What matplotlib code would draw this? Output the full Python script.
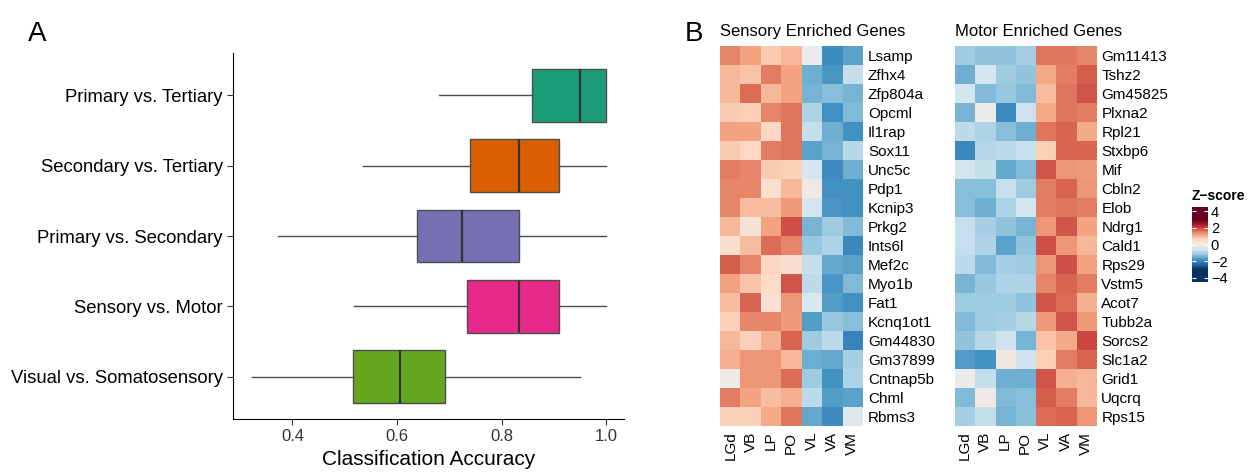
import matplotlib
matplotlib.use('Agg')
import matplotlib.pyplot as plt
from matplotlib.colors import ListedColormap, LinearSegmentedColormap
import numpy as np

# datos panel A (resumen de cajas)
comparaciones = ["Primary vs. Tertiary", "Secondary vs. Tertiary", "Primary vs. Secondary",
                 "Sensory vs. Motor", "Visual vs. Somatosensory"]
bigote_bajo = [0.681, 0.534, 0.372, 0.518, 0.322]
q1 = [0.859, 0.740, 0.638, 0.733, 0.515]
mediana = [0.949, 0.833, 0.724, 0.833, 0.605]
q3 = [1.000, 0.910, 0.833, 0.910, 0.691]
bigote_alto = [1.000, 1.000, 1.000, 1.000, 0.949]
colores = ["#1B9E77", "#D95F02", "#7570B3", "#E7298A", "#66A61E"]

# datos panel B (z-scores)
regiones = ["LGd", "VB", "LP", "PO", "VL", "VA", "VM"]
genes_sens = ["Lsamp", "Zfhx4", "Zfp804a", "Opcml", "Il1rap", "Sox11", "Unc5c", "Pdp1", "Kcnip3",
              "Prkg2", "Ints6l", "Mef2c", "Myo1b", "Fat1", "Kcnq1ot1", "Gm44830", "Gm37899",
              "Cntnap5b", "Chml", "Rbms3"]
z_sens = [
    [1.47, 1.20, 0.80, 1.00, 0.00, -1.87, -1.60],
    [1.00, 0.87, 1.53, 1.20, -1.47, -1.73, -0.73],
    [1.00, 1.67, 1.00, 1.20, -1.40, -1.27, -1.40],
    [0.80, 0.73, 1.47, 1.60, -0.93, -1.80, -1.33],
    [1.20, 1.20, 0.60, 1.60, -0.73, -1.47, -1.80],
    [0.80, 0.60, 1.53, 1.60, -1.60, -1.40, -0.87],
    [1.53, 1.47, 0.80, 0.73, -0.47, -1.87, -1.47],
    [1.47, 1.47, 0.40, 1.00, 0.13, -1.80, -1.80],
    [1.47, 0.93, 0.93, 1.27, -0.53, -1.73, -1.80],
    [1.00, 0.33, 1.20, 1.93, -1.40, -1.07, -1.33],
    [0.47, 0.93, 1.67, 1.47, -1.13, -0.93, -1.93],
    [1.80, 1.47, 0.60, 0.47, -0.73, -1.53, -1.60],
    [1.20, 0.87, 0.53, 1.87, -0.80, -1.73, -1.33],
    [0.93, 1.73, 0.40, 1.33, -0.40, -1.67, -1.80],
    [0.73, 1.47, 1.47, 1.27, -1.67, -1.13, -1.27],
    [1.00, 0.73, 1.07, 1.73, -1.07, -0.80, -2.00],
    [1.07, 1.33, 1.33, 1.00, -1.47, -1.53, -1.00],
    [0.07, 1.33, 1.33, 1.67, -1.07, -1.80, -0.93],
    [1.53, 1.20, 0.93, 1.07, -0.80, -1.67, -1.60],
    [0.73, 0.73, 1.13, 1.60, -1.53, -1.87, -0.27],
]
genes_mot = ["Gm11413", "Tshz2", "Gm45825", "Plxna2", "Rpl21", "Stxbp6", "Mif", "Cbln2", "Elob",
             "Ndrg1", "Cald1", "Rps29", "Vstm5", "Acot7", "Tubb2a", "Sorcs2", "Slc1a2", "Grid1",
             "Uqcrq", "Rps15"]
z_mot = [
    [-1.07, -1.20, -1.20, -1.00, 1.60, 1.60, 1.47],
    [-1.47, -0.47, -1.07, -1.20, 1.13, 1.53, 1.80],
    [-0.53, -1.33, -1.13, -1.33, 0.93, 1.60, 1.87],
    [-1.40, 0.00, -1.87, -0.60, 1.13, 1.60, 1.53],
    [-0.80, -0.93, -1.27, -1.47, 1.60, 1.73, 1.13],
    [-1.93, -0.87, -0.80, -0.67, 0.73, 1.73, 1.73],
    [-0.53, -0.73, -1.53, -1.33, 1.87, 1.33, 1.27],
    [-1.27, -1.27, -0.67, -1.07, 1.53, 1.73, 1.33],
    [-1.27, -1.47, -0.93, -0.53, 1.53, 1.60, 1.53],
    [-0.67, -1.00, -1.20, -1.40, 1.33, 1.87, 1.20],
    [-0.67, -0.93, -1.60, -1.20, 1.93, 1.33, 1.00],
    [-0.80, -1.33, -1.00, -1.07, 1.33, 1.93, 1.20],
    [-1.40, -1.13, -0.93, -0.93, 1.47, 1.73, 1.53],
    [-1.07, -1.07, -1.07, -1.20, 1.87, 1.67, 1.07],
    [-1.33, -1.07, -1.00, -0.87, 1.27, 1.87, 1.27],
    [-1.20, -0.87, -0.60, -1.40, 0.87, 1.13, 2.00],
    [-1.67, -1.80, 0.20, -0.60, 0.73, 1.53, 1.73],
    [0.00, -0.73, -1.47, -1.47, 1.87, 1.07, 1.00],
    [-1.33, 0.13, -1.33, -1.27, 1.80, 1.53, 1.00],
    [-1.00, -0.73, -1.40, -1.27, 1.67, 1.73, 1.33],
]

plt.rcParams['font.family'] = ['Liberation Sans', 'DejaVu Sans']

fig = plt.figure(figsize=(12.48, 4.75), dpi=100)

# ---- Panel A: boxplots ----
ax = fig.add_axes([0.187, 0.118, 0.313, 0.77])
stats = []
for i in range(len(comparaciones)):
    stats.append(dict(whislo=bigote_bajo[i], q1=q1[i], med=mediana[i], q3=q3[i],
                      whishi=bigote_alto[i], fliers=[]))
pos = np.arange(len(comparaciones), 0, -1)
bp = ax.bxp(stats, positions=pos, vert=False, widths=0.75, patch_artist=True,
            showcaps=False, showfliers=False,
            boxprops=dict(edgecolor='#4d4d4d', linewidth=1.0),
            whiskerprops=dict(color='#4d4d4d', linewidth=1.0),
            medianprops=dict(color='#333333', linewidth=1.6))
for caja, c in zip(bp['boxes'], colores):
    caja.set_facecolor(c)
ax.set_yticks(pos)
ax.set_yticklabels(comparaciones, fontsize=13.3)
ax.set_ylim(0.4, 5.6)
ax.set_xlim(0.287, 1.034)
ax.set_xticks([0.4, 0.6, 0.8, 1.0])
ax.set_xticklabels(["0.4", "0.6", "0.8", "1.0"], fontsize=12, color='#333333')
ax.set_xlabel("Classification Accuracy", fontsize=15)
ax.spines['top'].set_visible(False)
ax.spines['right'].set_visible(False)
ax.tick_params(length=4, color='#333333')
fig.text(0.022, 0.955, "A", fontsize=20, va='top')

# ---- Panel B: heatmaps ----
# escala de color: -3..3 como en el heatmap, saturada fuera de ese rango
base = LinearSegmentedColormap.from_list('rdbu_gris', [
    "#053061", "#2166AC", "#4393C3", "#92C5DE", "#D1E5F0", "#ECECEC",
    "#FDDBC7", "#F4A582", "#D6604D", "#B2182B", "#67001F"])
vmin, vmax = -4.5, 4.5
zz = np.linspace(vmin, vmax, 256)
cmap = ListedColormap(base(np.clip((zz + 3) / 6, 0, 1)))


def dibujar_heatmap(rect, datos, genes, titulo):
    axh = fig.add_axes(rect)
    im = axh.imshow(np.array(datos), cmap=cmap, vmin=vmin, vmax=vmax, aspect='auto',
                    interpolation='nearest')
    axh.set_xticks(range(len(regiones)))
    axh.set_xticklabels(regiones, rotation=90, fontsize=11)
    axh.set_yticks(range(len(genes)))
    axh.set_yticklabels(genes, fontsize=11)
    axh.yaxis.tick_right()
    axh.tick_params(length=0, pad=4)
    for s in axh.spines.values():
        s.set_visible(False)
    axh.set_title(titulo, fontsize=12, loc='left', pad=7)
    return im


im = dibujar_heatmap([0.577, 0.103, 0.114, 0.8], z_sens, genes_sens, "Sensory Enriched Genes")
dibujar_heatmap([0.765, 0.103, 0.113, 0.8], z_mot, genes_mot, "Motor Enriched Genes")
fig.text(0.549, 0.955, "B", fontsize=20, va='top')

cax = fig.add_axes([0.955, 0.406, 0.013, 0.158])
cb = fig.colorbar(im, cax=cax, ticks=[4, 2, 0, -2, -4])
cb.outline.set_visible(False)
cb.ax.set_yticklabels(["4", "2", "0", "\u22122", "\u22124"], fontsize=10.5)
cb.ax.tick_params(direction='in', color='white', length=3, left=True, pad=2)
cb.ax.set_title("Z\u2212score", fontsize=10, fontweight='bold', loc='left', pad=5)

fig.savefig('out.png', dpi=100)
